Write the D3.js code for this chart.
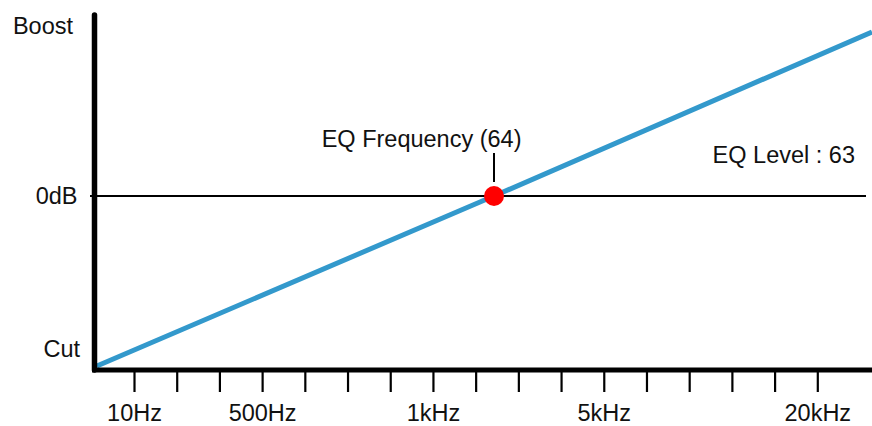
<!DOCTYPE html>
<html>
<head>
<meta charset="utf-8">
<script src="https://cdn.jsdelivr.net/npm/d3@7"></script>
<style>
body{margin:0;background:#fff;}
text{font-family:"Liberation Sans",Arial,sans-serif;font-size:23.5px;fill:#111;}
</style>
</head>
<body>
<div id="chart"></div>
<script>
// tick positions along the frequency axis (index) and their labels
let tickIndex = d3.range(0,17);
let tickLabels = ["10Hz","","","500Hz","","","","1kHz","","","","5kHz","","","","","20kHz"];

// level labels on the left
let levelLabels = ["Boost","0dB","Cut"];
let levelValues = [1,0,-0.9];

// tilt curve (x in tick index units, y in level units)
let tiltX = [-0.87, 8.43, 17.28];
let tiltY = [-1, 0, 0.965];

let eqFrequency = 64;
let eqFrequencyIndex = 8.43;
let eqLevel = 63;

let width = 872;
let height = 426;

let chart = d3.select("#chart").append("svg")
  .attr("width", width).attr("height", height);

let x = d3.scaleLinear().domain([0,16]).range([134, 817.3]);
let y = d3.scaleLinear().domain([-1,1]).range([366, 26]);
let axisY = 370;

// zero line
chart.append("line")
  .attr("x1", 90).attr("x2", 866)
  .attr("y1", y(0)).attr("y2", y(0))
  .attr("stroke", "#000").attr("stroke-width", 2);

// x axis ticks
let xAxis = d3.axisBottom(x)
  .tickValues(tickIndex)
  .tickSize(22)
  .tickPadding(12)
  .tickFormat(i => tickLabels[i]);

let gx = chart.append("g")
  .attr("transform", "translate(0," + axisY + ")")
  .call(xAxis);
gx.select(".domain").remove();
gx.selectAll(".tick line").attr("stroke", "#000").attr("stroke-width", 2.2);
gx.selectAll(".tick text")
  .attr("fill", "#111")
  .style("font-size", "23.5px")
  .style("font-family", "'Liberation Sans',Arial,sans-serif");

// tilt line
let line = d3.line().x(d => x(d[0])).y(d => y(d[1]));
chart.append("path")
  .datum(d3.zip(tiltX, tiltY))
  .attr("d", line)
  .attr("fill", "none")
  .attr("stroke", "#3399cc")
  .attr("stroke-width", 5);

// axes lines
chart.append("line")
  .attr("x1", 94.5).attr("x2", 94.5)
  .attr("y1", 15).attr("y2", axisY)
  .attr("stroke", "#000").attr("stroke-width", 5.5)
  .attr("stroke-linecap", "round");
chart.append("line")
  .attr("x1", 92).attr("x2", width)
  .attr("y1", axisY).attr("y2", axisY)
  .attr("stroke", "#000").attr("stroke-width", 5);

// level labels
chart.selectAll(".level")
  .data(levelLabels)
  .enter()
  .append("text")
  .attr("class", "level")
  .attr("x", (d,i) => [73,77.5,80][i])
  .attr("y", (d,i) => y(levelValues[i]))
  .attr("dy", "0.35em")
  .attr("text-anchor", "end")
  .text(d => d);

// frequency marker
let fx = x(eqFrequencyIndex);
chart.append("line")
  .attr("x1", fx).attr("x2", fx)
  .attr("y1", 153).attr("y2", 182)
  .attr("stroke", "#000").attr("stroke-width", 2);
chart.append("circle")
  .attr("cx", fx).attr("cy", y(0)).attr("r", 10)
  .attr("fill", "#ff0000");

chart.append("text")
  .attr("x", fx + 27.5).attr("y", 146.5)
  .attr("text-anchor", "end")
  .text("EQ Frequency (" + eqFrequency + ")");

chart.append("text")
  .attr("x", 855).attr("y", 163.3)
  .attr("text-anchor", "end")
  .text("EQ Level : " + eqLevel);
</script>
</body>
</html>
